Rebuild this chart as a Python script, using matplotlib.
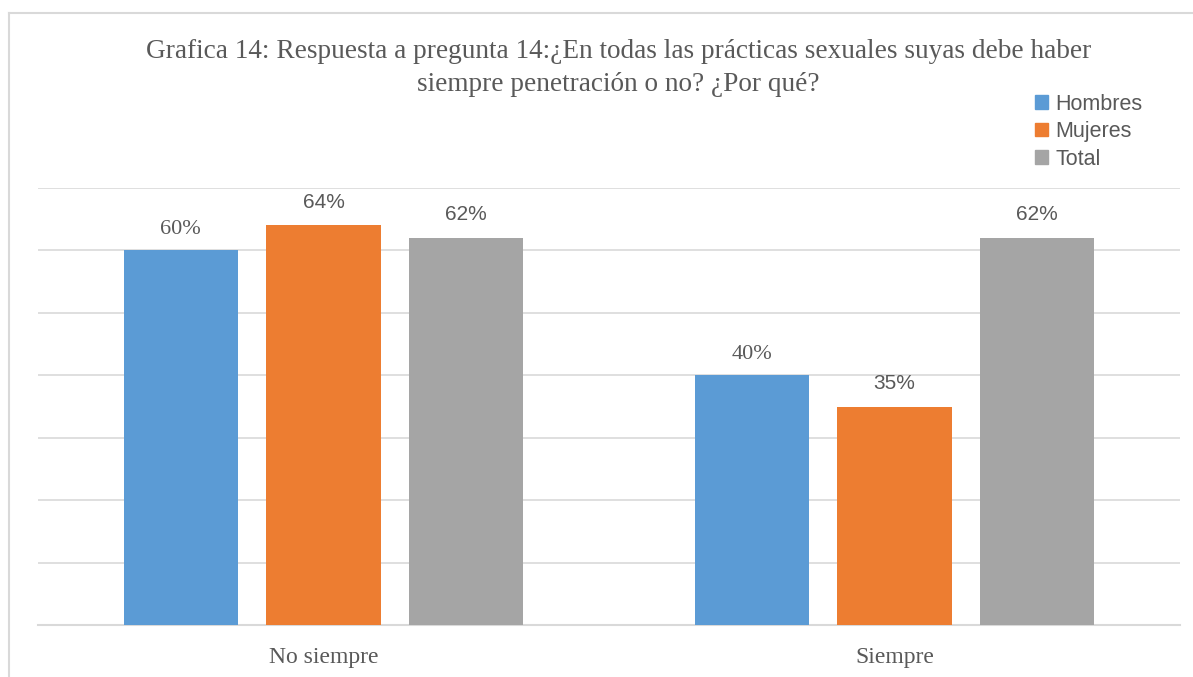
import matplotlib.pyplot as plt
import numpy as np
from matplotlib.lines import Line2D
from matplotlib.patches import Patch

categories = ['No siempre', 'Siempre']
series = ['Hombres', 'Mujeres', 'Total']
hombres = [60, 40]
mujeres = [64, 35]
total = [62, 62]
colors = ['#5B9BD5', '#ED7D31', '#A5A5A5']

serif = 'Liberation Serif'
sans = 'Liberation Sans'
txt = '#595959'

fig = plt.figure(figsize=(11.93, 6.77), dpi=100)
ax = fig.add_axes([38 / 1193, 52 / 677, 1142 / 1193, 437 / 677])

x = np.arange(len(categories))
width = 0.2
step = 0.25
values = [hombres, mujeres, total]
# label fonts differ per series in the original
label_fonts = [serif, sans, sans]
label_sizes = [16, 15, 15]
label_offsets = [8, 10, 10]
for i, (name, vals) in enumerate(zip(series, values)):
    pos = x + (i - 1) * step
    bars = ax.bar(pos, vals, width, color=colors[i], label=name, zorder=3)
    for b, v in zip(bars, vals):
        ax.annotate(f'{v}%', (b.get_x() + b.get_width() / 2, v),
                    xytext=(0, label_offsets[i]), textcoords='offset points',
                    ha='center', va='bottom', fontsize=label_sizes[i],
                    family=label_fonts[i], color=txt)

ax.set_xlim(-0.5, 1.5)
ax.set_ylim(0, 70)
ax.set_yticks(np.arange(0, 71, 10))
ax.yaxis.grid(True, color='#D9D9D9', linewidth=1.2, zorder=0)
ax.tick_params(axis='y', left=False, labelleft=False)
ax.tick_params(axis='x', bottom=False, pad=12)
ax.set_xticks(x)
ax.set_xticklabels(categories, fontsize=17, family=serif, color=txt)
for s in ['top', 'right', 'left']:
    ax.spines[s].set_visible(False)
ax.spines['bottom'].set_color('#D9D9D9')
ax.spines['bottom'].set_linewidth(1.5)

fig.text(0.5185, 1 - 68 / 677,
         'Grafica 14: Respuesta a pregunta 14:¿En todas las prácticas sexuales suyas debe haber\n'
         'siempre penetración o no? ¿Por qué?',
         ha='center', va='center', fontsize=19.6, family=serif, color=txt,
         linespacing=1.4)

handles = [Patch(color=c) for c in colors]
fig.legend(handles, series, loc='upper left', bbox_to_anchor=(1026 / 1193, 1 - 85 / 677),
           frameon=False, prop={'family': sans, 'size': 15.5}, labelcolor=txt,
           handlelength=0.6, handleheight=0.6, handletextpad=0.35,
           labelspacing=0.3, borderaxespad=0)

# outer frame (left and top edges visible)
fig.add_artist(Line2D([8.5 / 1193, 8.5 / 1193], [0, 1 - 12.5 / 677],
                      transform=fig.transFigure, color='#D9D9D9', linewidth=1.5))
fig.add_artist(Line2D([8.5 / 1193, 1], [1 - 12.5 / 677, 1 - 12.5 / 677],
                      transform=fig.transFigure, color='#D9D9D9', linewidth=1.5))

fig.savefig('out.png', dpi=100)
